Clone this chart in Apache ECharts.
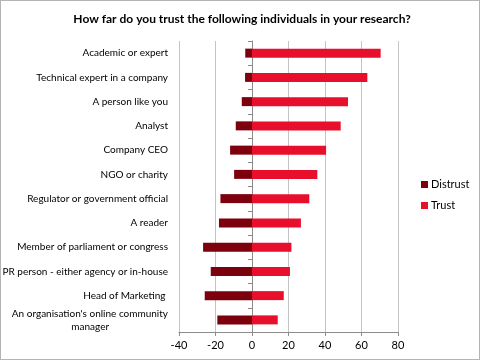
<!DOCTYPE html>
<html><head><meta charset="utf-8">
<script src="https://cdn.jsdelivr.net/npm/echarts@6/dist/echarts.min.js"></script>
<style>
html,body{margin:0;padding:0;background:#fff;}
#frame{position:absolute;left:0;top:0;width:478px;height:358px;border:1px solid #b4b4b4;}
#c{position:absolute;left:-1px;top:-1px;width:480px;height:360px;}
</style></head>
<body><div id="frame"><div id="c"></div></div>
<script>
const categories = [
  "Academic or expert",
  "Technical expert in a company",
  "A person like you",
  "Analyst",
  "Company CEO",
  "NGO or charity",
  "Regulator or government official",
  "A reader",
  "Member of parliament or congress",
  "PR person - either agency or in-house",
  "Head of Marketing ",
  "An organisation's online community manager"
];
const distrust = [-3.7, -3.8, -5.6, -8.9, -12.0, -9.8, -17.3, -18.1, -26.8, -22.6, -25.9, -19.0];
const trust = [70.5, 63.2, 52.6, 48.6, 40.6, 35.8, 31.4, 26.8, 21.6, 20.8, 17.4, 14.1];
const xTicks = { min: -40, max: 80, interval: 20 };
const seriesNames = ["Distrust", "Trust"];

const FONT = "Lato, 'Open Sans', sans-serif";
const LABEL_SIZE = 10;
const mc = document.createElement('canvas').getContext('2d');
mc.font = LABEL_SIZE + 'px ' + FONT;

// Wrap long labels in two lines, centring the shorter line (as Excel does)
function wrapLabel(v) {
  if (v.length <= 40) return v;
  const cut = v.lastIndexOf(' ');
  const a = v.slice(0, cut), b = v.slice(cut + 1);
  const wa = mc.measureText(a).width, wb = mc.measureText(b).width;
  const sp = mc.measureText(' ').width;
  const n = Math.round(((wa - wb) / 2) / sp);
  return a + '\n' + b + ' '.repeat(Math.max(0, n));
}

const chart = echarts.init(document.getElementById('c'), null, { renderer: 'canvas' });
chart.setOption({
  animation: false,
  backgroundColor: 'transparent',
  title: {
    text: 'How far do you trust the following individuals in your research?',
    left: 237, top: 8, textAlign: 'center',
    textStyle: { fontFamily: FONT, fontSize: 12, fontWeight: 'bold', color: '#000' }
  },
  legend: {
    orient: 'vertical', left: 416, top: 174, itemGap: 10,
    itemWidth: 7, itemHeight: 7, icon: 'rect',
    data: seriesNames,
    textStyle: { fontFamily: FONT, fontSize: 11, color: '#000', padding: [0, 0, 0, -2] }
  },
  grid: { left: 179, right: 82, top: 41, bottom: 28, containLabel: false, outerBoundsMode: 'none' },
  xAxis: {
    type: 'value', min: xTicks.min, max: xTicks.max, interval: xTicks.interval,
    axisLine: { show: true, lineStyle: { color: '#8c8c8c' } },
    axisTick: { show: true, length: 4, lineStyle: { color: '#8c8c8c' } },
    axisLabel: { fontFamily: FONT, fontSize: 11, color: '#000', margin: 8 },
    splitLine: { show: true, lineStyle: { color: '#c4c4c4' } }
  },
  yAxis: [{
    type: 'category', data: categories, inverse: true,
    axisLine: { show: false, onZero: false },
    axisTick: { show: false },
    axisLabel: {
      fontFamily: FONT, fontSize: LABEL_SIZE, color: '#000', margin: 11, lineHeight: 13,
      formatter: wrapLabel
    }
  }, {
    type: 'category', data: categories, inverse: true, position: 'left',
    axisLine: { show: true, onZero: true, lineStyle: { color: '#8a8a8a' } },
    axisTick: { show: true, length: 4, inside: false, lineStyle: { color: '#8a8a8a' } },
    axisLabel: { show: false },
    splitLine: { show: false }
  }],
  series: [{
    name: seriesNames[0], type: 'bar', stack: 's', data: distrust, barWidth: 9,
    itemStyle: { color: '#7c000d' }
  }, {
    name: seriesNames[1], type: 'bar', stack: 's', data: trust, barWidth: 9,
    itemStyle: { color: '#e80f2c' }
  }]
});
</script></body></html>
